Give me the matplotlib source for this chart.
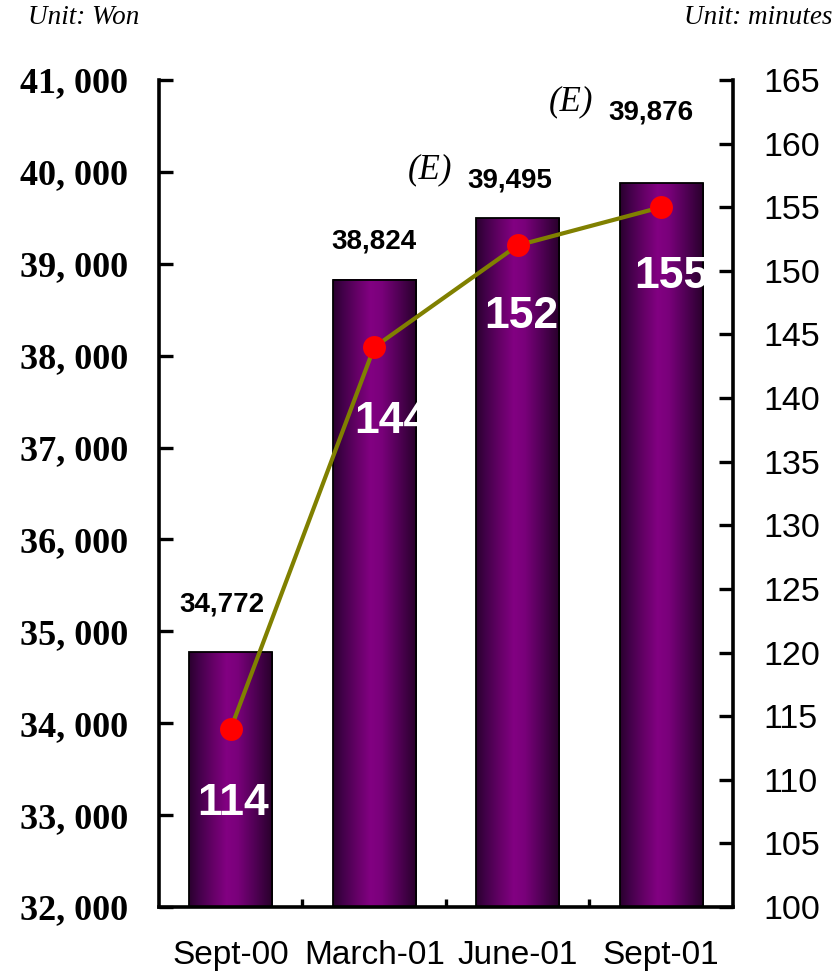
import numpy as np
import matplotlib
matplotlib.use("Agg")
import matplotlib.pyplot as plt
from matplotlib.colors import LinearSegmentedColormap
from matplotlib.ticker import FuncFormatter, FixedLocator

# Average monthly bill (Won) and usage (minutes) per period
periods = ["Sept-00", "March-01", "June-01", "Sept-01"]
bill_won = [34772, 38824, 39495, 39876]
usage_min = [114, 144, 152, 155]
estimated = [False, False, True, True]

SANS = "Liberation Sans"
SERIF = "Liberation Serif"

fig = plt.figure(figsize=(8.34, 9.75), dpi=100)
ax = fig.add_axes([0.1906, 0.0697, 0.6883, 0.8483])
ax2 = ax.twinx()

x = np.arange(len(periods))
ax.set_xlim(-0.5, len(periods) - 0.5)
ax.set_ylim(32000, 41000)
ax2.set_ylim(100, 165)

# Cylinder-style shading for the bars
shade = LinearSegmentedColormap.from_list(
    "tube",
    [(0.0, "#2a002e"), (0.12, "#43004a"), (0.30, "#680069"),
     (0.45, "#820082"), (0.58, "#7a007b"), (0.78, "#520056"),
     (0.92, "#36003a"), (1.0, "#28002a")])
grad = np.linspace(0, 1, 256)[None, :]

bars = ax.bar(x, bill_won, width=0.58, bottom=0, facecolor="none",
              edgecolor="black", linewidth=1.3, zorder=3)
ybot = ax.get_ylim()[0]
for b in bars:
    x0, w, h = b.get_x(), b.get_width(), b.get_height()
    ax.imshow(grad, cmap=shade, aspect="auto", zorder=2,
              extent=(x0, x0 + w, ybot, h), interpolation="bicubic")
ax.set_xlim(-0.5, len(periods) - 0.5)
ax.set_ylim(32000, 41000)

# Bill labels above the bars
bill_offsets = [(-9, 48), (0, 38), (-8, 38), (-10, 71)]
for xi, v, (dx, dy), est in zip(x, bill_won, bill_offsets, estimated):
    ax.annotate(f"{v:,}", (xi, v), xytext=(dx, dy), textcoords="offset pixels",
                ha="center", va="center", fontsize=20, fontweight="bold",
                family=SANS, color="black", zorder=5)
    if est:
        ax.annotate("(E)", (xi, v), xytext=(dx - 80, dy + 10),
                    textcoords="offset pixels", ha="center", va="center",
                    fontsize=25, style="italic", family=SERIF, color="black")

# Usage line
ax2.plot(x, usage_min, color="#808000", linewidth=3, zorder=4,
         marker="o", markersize=16.5, markerfacecolor="#ff0000",
         markeredgecolor="#ff0000", markeredgewidth=0)
usage_offsets = [(2, -75), (17, -74), (4, -71), (10, -69)]
for xi, v, (dx, dy) in zip(x, usage_min, usage_offsets):
    ax2.annotate(f"{v}", (xi, v), xytext=(dx, dy),
                 textcoords="offset pixels", ha="center", va="center",
                 fontsize=32, fontweight="bold", family=SANS, color="white",
                 zorder=6)

# Axes styling
for a in (ax, ax2):
    a.spines["top"].set_visible(False)
ax.spines["right"].set_visible(False)
ax2.spines["left"].set_visible(False)
ax2.spines["bottom"].set_visible(False)
for sp in ("left", "bottom"):
    ax.spines[sp].set_linewidth(2.6)
ax2.spines["right"].set_linewidth(2.6)

ax.yaxis.set_major_locator(FixedLocator(np.arange(32000, 41001, 1000)))
ax.yaxis.set_major_formatter(
    FuncFormatter(lambda v, p: f"{int(v) // 1000}, {int(v) % 1000:03d}"))
ax.tick_params(axis="y", direction="in", length=10, width=2.4, pad=22,
               labelsize=26)
for t in ax.get_yticklabels():
    t.set_fontfamily(SERIF)
    t.set_fontweight("bold")

ax2.yaxis.set_major_locator(FixedLocator(np.arange(100, 166, 5)))
ax2.tick_params(axis="y", direction="in", length=10, width=2.4, pad=22,
                labelsize=24.5)
for t in ax2.get_yticklabels():
    t.set_fontfamily(SANS)

ax.set_xticks(x)
ax.set_xticklabels(periods, family=SANS, fontsize=24)
ax.set_xticks(x[:-1] + 0.5, minor=True)
ax.tick_params(axis="x", which="major", length=0, pad=24)
ax.tick_params(axis="x", which="minor", direction="in", length=6, width=2.4)

fig.text(28 / 834, 1 - 18 / 975, "Unit: Won", family=SERIF, style="italic",
         fontsize=19.5, ha="left", va="center")
fig.text(832 / 834, 1 - 18 / 975, "Unit: minutes", family=SERIF,
         style="italic", fontsize=19.5, ha="right", va="center")

fig.savefig("out.png", dpi=100, facecolor="white")
